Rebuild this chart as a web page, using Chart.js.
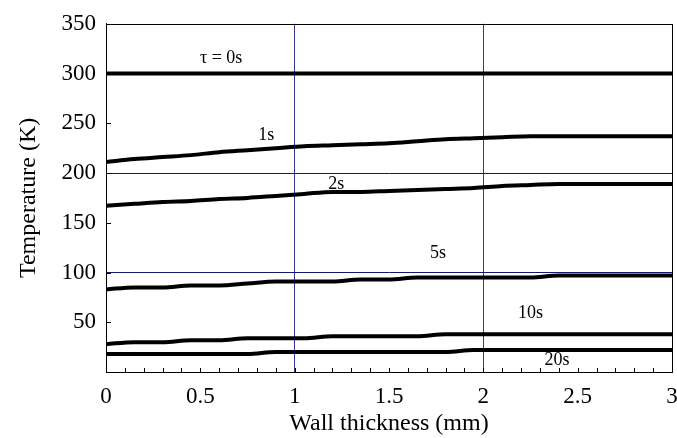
<!DOCTYPE html>
<html>
<head>
<meta charset="utf-8">
<script src="https://cdn.jsdelivr.net/npm/chart.js@4/dist/chart.umd.min.js"></script>
<style>
  html, body { margin: 0; padding: 0; background: #fff; }
  #wrap { width: 677px; height: 438px; }
</style>
</head>
<body>
<div id="wrap"><canvas id="myChart" width="677" height="438"></canvas></div>
<script>
(() => {
    'use strict';

    // wall thickness positions (mm)
    const thickness = [0, 0.15, 0.3, 0.45, 0.6, 0.75, 0.9, 1.05, 1.2, 1.35, 1.5,
        1.65, 1.8, 1.95, 2.1, 2.25, 2.4, 2.55, 2.7, 2.85, 3];

    // temperature (K) at each time
    const temp0s = [300, 300, 300, 300, 300, 300, 300, 300, 300, 300, 300,
        300, 300, 300, 300, 300, 300, 300, 300, 300, 300];
    const temp1s = [211, 214, 216, 218, 221, 223, 225, 227, 228, 229, 230,
        232, 234, 235, 236, 237, 237, 237, 237, 237, 237];
    const temp2s = [167, 169, 171, 172, 174, 175, 177, 179, 181, 181, 182,
        183, 184, 185, 187, 188, 189, 189, 189, 189, 189];
    const temp5s = [83, 85, 85, 87, 87, 89, 91, 91, 91, 93, 93,
        95, 95, 95, 95, 95, 97, 97, 97, 97, 97];
    const temp10s = [28, 30, 30, 32, 32, 34, 34, 34, 36, 36, 36,
        36, 38, 38, 38, 38, 38, 38, 38, 38, 38];
    const temp20s = [18, 18, 18, 18, 18, 18, 20, 20, 20, 20, 20,
        20, 20, 22, 22, 22, 22, 22, 22, 22, 22];

    const seriesNames = ['τ = 0s', '1s', '2s', '5s', '10s', '20s'];
    const seriesValues = [temp0s, temp1s, temp2s, temp5s, temp10s, temp20s];
    // where each curve's label sits, in data units [mm, K]
    const labelAt = [[0.61, 315], [0.85, 238], [1.22, 189], [1.76, 119], [2.25, 59], [2.39, 12]];

    const xTicksMajor = [0, 0.5, 1, 1.5, 2, 2.5, 3];
    const xGridAt = [1, 2];
    const yGridAt = [100, 200, 300];

    const FONT = 'Liberation Serif, Times New Roman, serif';
    const NAVY_V = '#3535a0';
    const NAVY_H = '#16166e';

    const near = (a, b) => Math.abs(a - b) < 1e-6;

    // box, inward ticks and curve labels
    const decor = {
        id: 'decor',
        afterDatasetsDraw(chart) {
            const { ctx, chartArea: a, scales } = chart;
            ctx.save();
            ctx.strokeStyle = '#000';
            ctx.lineWidth = 1;
            ctx.beginPath();
            scales.x.ticks.forEach(t => {
                const px = Math.round(scales.x.getPixelForValue(t.value)) + 0.5;
                ctx.moveTo(px, a.bottom);
                ctx.lineTo(px, a.bottom - 4);
            });
            scales.y.ticks.forEach(t => {
                const py = Math.round(scales.y.getPixelForValue(t.value)) + 0.5;
                ctx.moveTo(a.left, py);
                ctx.lineTo(a.left + 5, py);
            });
            ctx.stroke();
            ctx.strokeRect(Math.round(a.left) + 0.5, Math.round(a.top) + 0.5,
                Math.round(a.right - a.left), Math.round(a.bottom - a.top));

            ctx.fillStyle = '#000';
            ctx.font = '18px ' + FONT;
            ctx.textAlign = 'center';
            ctx.textBaseline = 'middle';
            seriesNames.forEach((name, i) => {
                ctx.fillText(name, scales.x.getPixelForValue(labelAt[i][0]),
                    scales.y.getPixelForValue(labelAt[i][1]));
            });
            ctx.restore();
        }
    };

    const ctx = document.getElementById('myChart').getContext('2d');
    // eslint-disable-next-line no-unused-vars
    const myChart = new Chart(ctx, {
        type: 'line',
        data: {
            datasets: seriesValues.map((vals, i) => ({
                label: seriesNames[i],
                data: thickness.map((x, j) => ({ x: x, y: vals[j] })),
                borderColor: '#000',
                borderWidth: 4,
                pointRadius: 0,
                fill: false,
                cubicInterpolationMode: 'monotone'
            }))
        },
        options: {
            responsive: false,
            animation: false,
            layout: { padding: { top: 23, right: 5, left: 0, bottom: 0 } },
            plugins: {
                legend: { display: false },
                tooltip: { enabled: false }
            },
            scales: {
                x: {
                    type: 'linear',
                    min: 0,
                    max: 3,
                    afterFit: s => {
                        s.height = 66;
                        s.paddingLeft = 0;
                        s.paddingRight = 0;
                    },
                    border: { color: '#000', width: 1 },
                    grid: {
                        drawTicks: false,
                        color: c => xGridAt.some(v => near(v, c.tick.value)) ? NAVY_V : 'rgba(0,0,0,0)'
                    },
                    ticks: {
                        stepSize: 0.1,
                        autoSkip: false,
                        maxRotation: 0,
                        padding: 11,
                        color: '#000',
                        font: { family: FONT, size: 23 },
                        callback: v => {
                            const m = xTicksMajor.find(t => near(t, v));
                            return m === undefined ? '' : String(m);
                        }
                    },
                    title: {
                        display: true,
                        text: 'Wall thickness (mm)',
                        color: '#000',
                        font: { family: FONT, size: 24 },
                        padding: { top: 0, bottom: 0 }
                    }
                },
                y: {
                    min: 0,
                    max: 350,
                    afterFit: s => { s.width = 106; },
                    border: { color: '#000', width: 1 },
                    grid: {
                        drawTicks: false,
                        color: c => yGridAt.some(v => near(v, c.tick.value)) ? NAVY_H : 'rgba(0,0,0,0)'
                    },
                    ticks: {
                        stepSize: 50,
                        padding: 10,
                        color: '#000',
                        font: { family: FONT, size: 23 },
                        callback: v => v === 0 ? '' : v
                    },
                    title: {
                        display: true,
                        text: 'Temperature (K)',
                        color: '#000',
                        font: { family: FONT, size: 24 },
                        padding: { top: 14, bottom: 0 }
                    }
                }
            }
        },
        plugins: [decor]
    });
})();
</script>
</body>
</html>
